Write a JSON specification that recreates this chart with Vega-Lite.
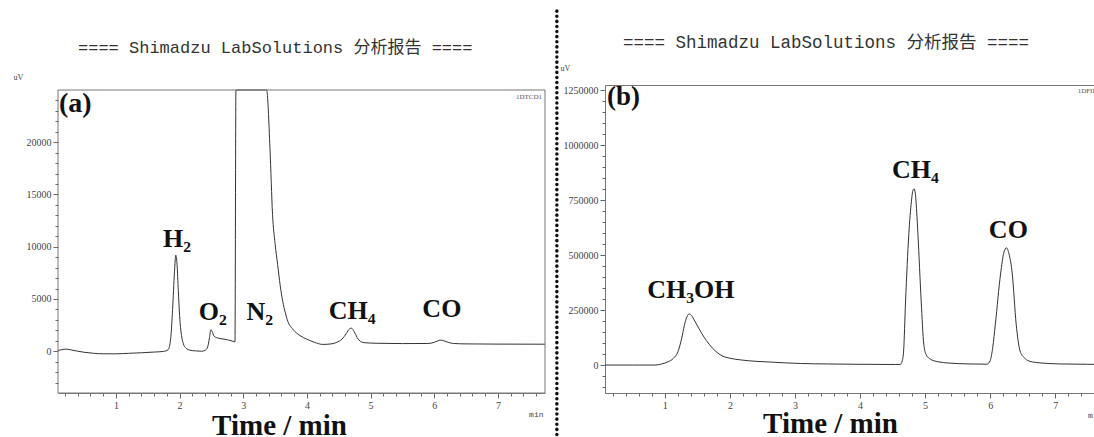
{
  "$schema": "https://vega.github.io/schema/vega-lite/v6.json",
  "padding": {"left": 13, "top": 8, "right": 0, "bottom": 0},
  "background": "white",
  "spacing": 8,
  "config": {
    "view": {"stroke": "#777", "strokeWidth": 1},
    "axis": {"grid": false, "labelFont": "Liberation Serif", "labelFontSize": 10, "labelColor": "#444", "tickColor": "#666", "domainColor": "#777", "titleColor": "#111", "labelPadding": 2}
  },
  "datasets": {
    "tcd": [
      {"t":0.09,"v":80},{"t":0.15,"v":150},{"t":0.22,"v":200},{"t":0.3,"v":120},{"t":0.4,"v":0},{"t":0.5,"v":-100},{"t":0.65,"v":-200},{"t":0.8,"v":-250},{"t":1.0,"v":-250},{"t":1.2,"v":-200},{"t":1.4,"v":-150},{"t":1.6,"v":-80},{"t":1.75,"v":-20},{"t":1.82,"v":150},{"t":1.86,"v":1200},{"t":1.89,"v":4000},{"t":1.92,"v":7600},{"t":1.94,"v":9200},{"t":1.96,"v":8300},{"t":1.98,"v":5800},{"t":2.0,"v":3400},{"t":2.03,"v":1500},{"t":2.06,"v":700},{"t":2.1,"v":300},{"t":2.16,"v":100},{"t":2.25,"v":30},{"t":2.35,"v":0},{"t":2.4,"v":80},{"t":2.44,"v":400},{"t":2.47,"v":1300},{"t":2.49,"v":2050},{"t":2.51,"v":1900},{"t":2.54,"v":1450},{"t":2.58,"v":1300},{"t":2.65,"v":1200},{"t":2.75,"v":1100},{"t":2.84,"v":950},{"t":2.87,"v":900},{"t":2.885,"v":25000},{"t":3.367,"v":25000},{"t":3.42,"v":19400},{"t":3.46,"v":13100},{"t":3.5,"v":10300},{"t":3.54,"v":8300},{"t":3.58,"v":6300},{"t":3.62,"v":4780},{"t":3.66,"v":3700},{"t":3.7,"v":2870},{"t":3.78,"v":2100},{"t":3.89,"v":1500},{"t":4.0,"v":1150},{"t":4.12,"v":850},{"t":4.25,"v":650},{"t":4.38,"v":700},{"t":4.47,"v":850},{"t":4.55,"v":1150},{"t":4.62,"v":1700},{"t":4.67,"v":2150},{"t":4.7,"v":2200},{"t":4.74,"v":1900},{"t":4.79,"v":1300},{"t":4.84,"v":950},{"t":4.9,"v":820},{"t":5.1,"v":760},{"t":5.5,"v":730},{"t":5.9,"v":740},{"t":6.0,"v":850},{"t":6.06,"v":1000},{"t":6.1,"v":1060},{"t":6.15,"v":1000},{"t":6.22,"v":850},{"t":6.3,"v":740},{"t":6.5,"v":700},{"t":7.0,"v":680},{"t":7.74,"v":670}
    ],
    "fid": [
      {"t":0.08,"v":0},{"t":0.5,"v":0},{"t":0.85,"v":0},{"t":0.95,"v":5000},{"t":1.05,"v":15000},{"t":1.13,"v":30000},{"t":1.2,"v":60000},{"t":1.26,"v":123000},{"t":1.3,"v":180000},{"t":1.34,"v":220000},{"t":1.37,"v":232000},{"t":1.41,"v":225000},{"t":1.46,"v":200000},{"t":1.52,"v":168000},{"t":1.6,"v":128000},{"t":1.68,"v":95000},{"t":1.78,"v":63000},{"t":1.88,"v":42000},{"t":2.0,"v":31000},{"t":2.18,"v":23000},{"t":2.4,"v":17000},{"t":2.6,"v":14000},{"t":2.85,"v":10000},{"t":3.1,"v":7000},{"t":3.5,"v":5000},{"t":4.0,"v":3500},{"t":4.55,"v":2500},{"t":4.62,"v":3000},{"t":4.65,"v":20000},{"t":4.67,"v":64000},{"t":4.7,"v":291000},{"t":4.75,"v":595000},{"t":4.79,"v":745000},{"t":4.81,"v":790000},{"t":4.83,"v":801000},{"t":4.85,"v":780000},{"t":4.87,"v":700000},{"t":4.89,"v":595000},{"t":4.94,"v":291000},{"t":4.98,"v":95000},{"t":5.02,"v":45000},{"t":5.08,"v":27000},{"t":5.2,"v":15000},{"t":5.37,"v":9000},{"t":5.7,"v":5000},{"t":5.95,"v":4000},{"t":6.0,"v":20000},{"t":6.04,"v":80000},{"t":6.08,"v":186000},{"t":6.16,"v":414000},{"t":6.21,"v":510000},{"t":6.25,"v":533000},{"t":6.29,"v":505000},{"t":6.34,"v":414000},{"t":6.4,"v":186000},{"t":6.46,"v":64000},{"t":6.52,"v":35000},{"t":6.6,"v":18000},{"t":6.8,"v":9000},{"t":7.1,"v":5000},{"t":7.5,"v":3500},{"t":7.75,"v":3000}
    ],
    "peaksA": [
      {"label":"H₂","t":1.96,"v":9950},
      {"label":"O₂","t":2.52,"v":2970},
      {"label":"N₂","t":3.26,"v":2970},
      {"label":"CH₄","t":4.71,"v":3060},
      {"label":"CO","t":6.12,"v":3250}
    ],
    "peaksB": [
      {"label":"CH₃OH","t":1.40,"v":304500},
      {"label":"CH₄","t":4.85,"v":850000},
      {"label":"CO","t":6.28,"v":577000}
    ]
  },
  "hconcat": [
    {
      "width": 487,
      "height": 308,
      "view": {"stroke": null},
      "layer": [
        {
          "data": {"name": "tcd"},
          "mark": {"type": "line", "color": "#333", "strokeWidth": 1, "interpolate": "monotone", "clip": true},
          "encoding": {
            "x": {"field": "t", "type": "quantitative", "scale": {"domain": [0.09, 7.74], "nice": false, "zero": false},
                  "axis": {"values": [1,2,3,4,5,6,7], "tickSize": 5, "orient": "bottom", "title": "Time / min", "titleFont": "Liberation Serif", "titleFontSize": 29, "titleFontWeight": "bold", "titleX": 221, "titleY": 41, "titleBaseline": "alphabetic", "titleAlign": "center"}},
            "y": {"field": "v", "type": "quantitative", "scale": {"domain": [-4000, 25480], "nice": false, "zero": false},
                  "axis": {"values": [0,5000,10000,15000,20000], "format": "d", "tickSize": 5, "domain": false, "orient": "left", "title": "uV", "titleAngle": 0, "titleX": -45, "titleY": -6, "titleAlign": "left", "titleBaseline": "alphabetic", "titleFont": "Liberation Serif", "titleFontSize": 8, "titleFontWeight": "normal", "titleColor": "#444"}}
          }
        },
        {
          "data": {"values": [{}]},
          "mark": {"type": "rect", "fillOpacity": 0, "stroke": "#777", "strokeWidth": 1, "clip": false},
          "encoding": {
            "x": {"datum": 0.09, "type": "quantitative", "scale": {"domain": [0.09, 7.74], "nice": false, "zero": false},
                  "axis": {"values": [0.2,0.4,0.6,0.8,1.2,1.4,1.6,1.8,2.2,2.4,2.6,2.8,3.2,3.4,3.6,3.8,4.2,4.4,4.6,4.8,5.2,5.4,5.6,5.8,6.2,6.4,6.6,6.8,7.2,7.4,7.6], "labels": false, "tickSize": 3, "domain": false, "orient": "bottom", "title": "min", "titleX": 485, "titleY": 23, "titleAlign": "right", "titleBaseline": "alphabetic", "titleFont": "Liberation Mono", "titleFontSize": 8, "titleFontWeight": "normal", "titleColor": "#444"}},
            "x2": {"datum": 7.74},
            "y": {"datum": 25000, "type": "quantitative", "scale": {"domain": [-4000, 25480], "nice": false, "zero": false},
                  "axis": {"values": [-3000,-2000,-1000,1000,2000,3000,4000,6000,7000,8000,9000,11000,12000,13000,14000,16000,17000,18000,19000,21000,22000,23000,24000], "labels": false, "tickSize": 3, "domain": false, "orient": "left", "title": null}},
            "y2": {"datum": -4000}
          }
        },
        {
          "data": {"values": [{"label": "==== Shimadzu LabSolutions 分析报告 ===="}]},
          "mark": {"type": "text", "font": "Liberation Mono, Noto Sans CJK SC", "fontSize": 17, "baseline": "alphabetic", "align": "left", "dx": 20, "dy": -37, "color": "#333"},
          "encoding": {
            "x": {"datum": 0.09, "type": "quantitative", "scale": {"domain": [0.09, 7.74], "nice": false, "zero": false}, "axis": null},
            "y": {"datum": 25000, "type": "quantitative", "scale": {"domain": [-4000, 25480], "nice": false, "zero": false}, "axis": null},
            "text": {"field": "label"}
          }
        },
        {
          "data": {"name": "peaksA"},
          "mark": {"type": "text", "font": "Liberation Serif", "fontWeight": "bold", "fontSize": 26, "baseline": "alphabetic", "align": "center", "color": "#111"},
          "encoding": {
            "x": {"field": "t", "type": "quantitative", "scale": {"domain": [0.09, 7.74], "nice": false, "zero": false}, "axis": null},
            "y": {"field": "v", "type": "quantitative", "scale": {"domain": [-4000, 25480], "nice": false, "zero": false}, "axis": null},
            "text": {"field": "label"}
          }
        },
        {
          "data": {"values": [{"label": "(a)"}]},
          "mark": {"type": "text", "font": "Liberation Serif", "fontWeight": "bold", "fontSize": 28, "baseline": "alphabetic", "align": "left", "dx": 1, "dy": 22, "color": "#111"},
          "encoding": {
            "x": {"datum": 0.09, "type": "quantitative", "scale": {"domain": [0.09, 7.74], "nice": false, "zero": false}, "axis": null},
            "y": {"datum": 25000, "type": "quantitative", "scale": {"domain": [-4000, 25480], "nice": false, "zero": false}, "axis": null},
            "text": {"field": "label"}
          }
        },
        {
          "data": {"values": [{"label": "1DTCD1"}]},
          "mark": {"type": "text", "font": "Liberation Serif", "fontSize": 7, "baseline": "alphabetic", "align": "right", "dx": -3, "dy": 9, "color": "#555"},
          "encoding": {
            "x": {"datum": 7.74, "type": "quantitative", "scale": {"domain": [0.09, 7.74], "nice": false, "zero": false}, "axis": null},
            "y": {"datum": 25000, "type": "quantitative", "scale": {"domain": [-4000, 25480], "nice": false, "zero": false}, "axis": null},
            "text": {"field": "label"}
          }
        }
      ],
      "resolve": {"axis": {"x": "independent", "y": "independent"}}
    },
    {
      "width": 499,
      "height": 308,
      "layer": [
        {
          "data": {"name": "fid"},
          "mark": {"type": "line", "color": "#333", "strokeWidth": 1, "interpolate": "monotone", "clip": true},
          "encoding": {
            "x": {"field": "t", "type": "quantitative", "scale": {"domain": [0.08, 7.75], "nice": false, "zero": false},
                  "axis": {"values": [1,2,3,4,5,6,7], "tickSize": 5, "orient": "bottom", "title": "Time / min", "titleFont": "Liberation Serif", "titleFontSize": 29, "titleFontWeight": "bold", "titleX": 225, "titleY": 39, "titleBaseline": "alphabetic", "titleAlign": "center"}},
            "y": {"field": "v", "type": "quantitative", "scale": {"domain": [-127000, 1273000], "nice": false, "zero": false},
                  "axis": {"values": [0,250000,500000,750000,1000000,1250000], "format": "d", "tickSize": 5, "orient": "left", "title": "uV", "titleAngle": 0, "titleX": -45, "titleY": -15, "titleAlign": "left", "titleBaseline": "alphabetic", "titleFont": "Liberation Serif", "titleFontSize": 8, "titleFontWeight": "normal", "titleColor": "#444"}}
          }
        },
        {
          "data": {"values": [{}]},
          "mark": {"type": "rule", "color": "#111", "strokeWidth": 3.5, "strokeDash": [0.1, 5], "strokeCap": "round", "clip": false},
          "encoding": {
            "x": {"datum": -0.66, "type": "quantitative", "scale": {"domain": [0.08, 7.75], "nice": false, "zero": false},
                  "axis": {"values": [0.2,0.4,0.6,0.8,1.2,1.4,1.6,1.8,2.2,2.4,2.6,2.8,3.2,3.4,3.6,3.8,4.2,4.4,4.6,4.8,5.2,5.4,5.6,5.8,6.2,6.4,6.6,6.8,7.2,7.4,7.6], "labels": false, "tickSize": 3, "domain": false, "orient": "bottom", "title": "min", "titleX": 497, "titleY": 24, "titleAlign": "right", "titleBaseline": "alphabetic", "titleFont": "Liberation Mono", "titleFontSize": 8, "titleFontWeight": "normal", "titleColor": "#444"}},
            "y": {"datum": 1609000, "type": "quantitative", "scale": {"domain": [-127000, 1273000], "nice": false, "zero": false},
                  "axis": {"values": [-100000,-50000,50000,100000,150000,200000,300000,350000,400000,450000,550000,600000,650000,700000,800000,850000,900000,950000,1050000,1100000,1150000,1200000], "labels": false, "tickSize": 3, "domain": false, "orient": "left", "title": null}},
            "y2": {"datum": -331500}
          }
        },
        {
          "data": {"values": [{"label": "==== Shimadzu LabSolutions 分析报告 ===="}]},
          "mark": {"type": "text", "font": "Liberation Mono, Noto Sans CJK SC", "fontSize": 17.5, "baseline": "alphabetic", "align": "left", "dx": 18, "dy": -37, "color": "#333"},
          "encoding": {
            "x": {"datum": 0.08, "type": "quantitative", "scale": {"domain": [0.08, 7.75], "nice": false, "zero": false}, "axis": null},
            "y": {"datum": 1273000, "type": "quantitative", "scale": {"domain": [-127000, 1273000], "nice": false, "zero": false}, "axis": null},
            "text": {"field": "label"}
          }
        },
        {
          "data": {"name": "peaksB"},
          "mark": {"type": "text", "font": "Liberation Serif", "fontWeight": "bold", "fontSize": 26, "baseline": "alphabetic", "align": "center", "color": "#111"},
          "encoding": {
            "x": {"field": "t", "type": "quantitative", "scale": {"domain": [0.08, 7.75], "nice": false, "zero": false}, "axis": null},
            "y": {"field": "v", "type": "quantitative", "scale": {"domain": [-127000, 1273000], "nice": false, "zero": false}, "axis": null},
            "text": {"field": "label"}
          }
        },
        {
          "data": {"values": [{"label": "(b)"}]},
          "mark": {"type": "text", "font": "Liberation Serif", "fontWeight": "bold", "fontSize": 27, "baseline": "alphabetic", "align": "left", "dx": 2, "dy": 20, "color": "#111"},
          "encoding": {
            "x": {"datum": 0.08, "type": "quantitative", "scale": {"domain": [0.08, 7.75], "nice": false, "zero": false}, "axis": null},
            "y": {"datum": 1273000, "type": "quantitative", "scale": {"domain": [-127000, 1273000], "nice": false, "zero": false}, "axis": null},
            "text": {"field": "label"}
          }
        },
        {
          "data": {"values": [{"label": "1DFID1"}]},
          "mark": {"type": "text", "font": "Liberation Serif", "fontSize": 7, "baseline": "alphabetic", "align": "right", "dx": -3, "dy": 8, "color": "#555"},
          "encoding": {
            "x": {"datum": 7.75, "type": "quantitative", "scale": {"domain": [0.08, 7.75], "nice": false, "zero": false}, "axis": null},
            "y": {"datum": 1273000, "type": "quantitative", "scale": {"domain": [-127000, 1273000], "nice": false, "zero": false}, "axis": null},
            "text": {"field": "label"}
          }
        }
      ],
      "resolve": {"axis": {"x": "independent", "y": "independent"}}
    }
  ]
}
